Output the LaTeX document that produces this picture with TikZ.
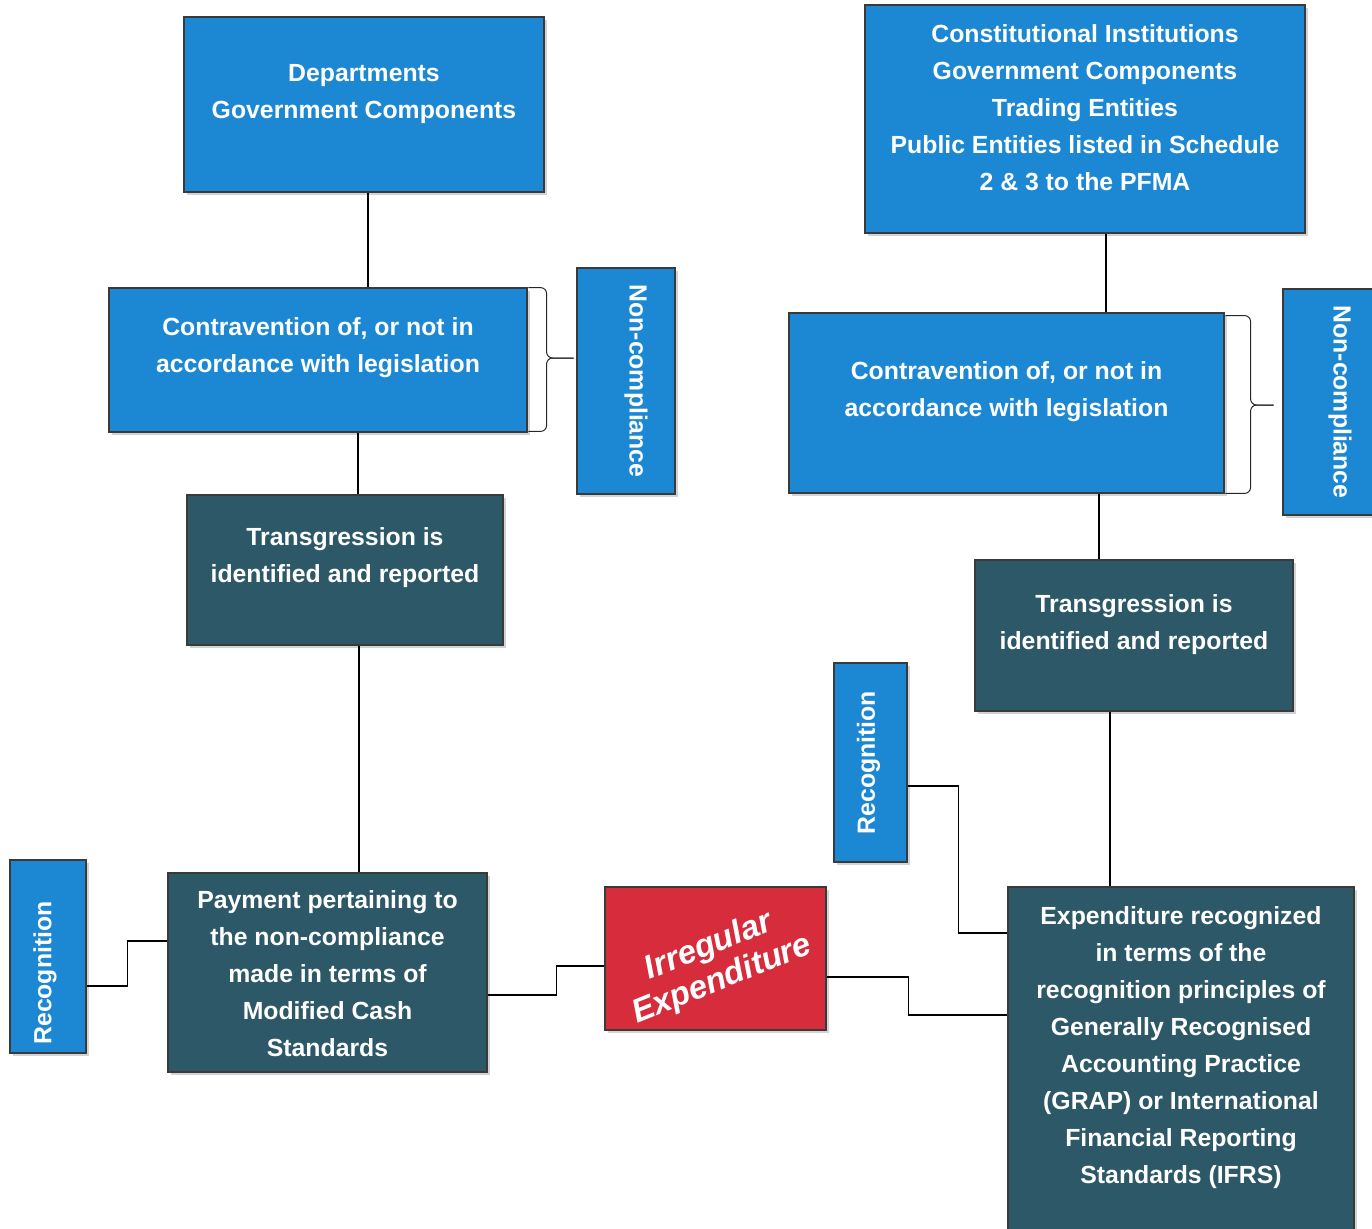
\documentclass[tikz,border=0pt]{standalone}
\usepackage{fontspec}
\setmainfont{Liberation Sans}
\usetikzlibrary{shadows}
\definecolor{boxblue}{RGB}{28,136,212}
\definecolor{boxteal}{RGB}{44,88,104}
\definecolor{boxred}{RGB}{214,44,60}
\definecolor{boxedge}{RGB}{58,58,58}
\tikzset{
  base/.style={draw=boxedge, line width=1.4pt, inner sep=0pt,
    drop shadow={shadow xshift=1.5pt, shadow yshift=-1.5pt, opacity=0.35}},
  bluebox/.style={base, fill=boxblue},
  tealbox/.style={base, fill=boxteal},
  redbox/.style={base, fill=boxred},
  boxtext/.style={text=white, font=\bfseries\fontsize{12.4}{18.5}\selectfont, align=center},
  sidetext/.style={text=white, font=\bfseries\fontsize{12.4}{14}\selectfont},
  bigtext/.style={text=white, font=\bfseries\itshape\fontsize{16.5}{18}\selectfont, align=center},
  link/.style={draw=black, line width=0.9pt},
  brc/.style={draw=black!85, line width=0.5pt, rounded corners=3pt},
}
\begin{document}
\begin{tikzpicture}[x=0.5pt,y=-0.5pt]
\useasboundingbox (0,0) rectangle (1372,1228);

% left column
\node[bluebox, minimum width=180pt, minimum height=87.5pt,
  label={[boxtext,yshift=5.25pt]center:{Departments\\Government Components}}]
  (dept) at (364,104.5) {};
\node[bluebox, minimum width=209pt, minimum height=72pt,
  label={[boxtext,yshift=6.25pt]center:{Contravention of, or not in\\accordance with legislation}}]
  (contL) at (318,360) {};
\node[bluebox, minimum width=49pt, minimum height=113pt,
  label={[sidetext,xshift=5pt,rotate=-90]center:{Non-compliance}}]
  (ncL) at (626,381) {};
\node[tealbox, minimum width=158pt, minimum height=75pt,
  label={[boxtext,yshift=6.25pt]center:{Transgression is\\identified and reported}}]
  (trL) at (345,570) {};
\node[bluebox, minimum width=38pt, minimum height=96.5pt,
  label={[sidetext,xshift=-1.5pt,yshift=-8.25pt,rotate=90]center:{Recognition}}]
  (recL) at (48,956.5) {};
\node[tealbox, minimum width=159.5pt, minimum height=99.5pt,
  label={[boxtext,yshift=-0.5pt]center:{Payment pertaining to\\the non-compliance\\made in terms of\\Modified Cash\\Standards}}]
  (pay) at (327.5,972.5) {};

% centre
\node[redbox, minimum width=110.5pt, minimum height=71.5pt,
  label={[bigtext,yshift=-2.5pt,rotate=22]center:{Irregular\\Expenditure}}]
  (irr) at (715.5,958.5) {};

% right column
\node[bluebox, minimum width=220pt, minimum height=114pt,
  label={[boxtext,yshift=5.75pt]center:{Constitutional Institutions\\Government Components\\Trading Entities\\Public Entities listed in Schedule\\2 \& 3 to the PFMA}}]
  (topR) at (1085,119) {};
\node[bluebox, minimum width=217.5pt, minimum height=90pt,
  label={[boxtext,yshift=5.75pt]center:{Contravention of, or not in\\accordance with legislation}}]
  (contR) at (1006.5,403) {};
\node[bluebox, minimum width=57pt, minimum height=113pt,
  label={[sidetext,rotate=-90]center:{Non-compliance}}]
  (ncR) at (1340,402) {};
\node[tealbox, minimum width=159pt, minimum height=75.5pt,
  label={[boxtext,yshift=5.5pt]center:{Transgression is\\identified and reported}}]
  (trR) at (1134,635.5) {};
\node[bluebox, minimum width=36.5pt, minimum height=99.5pt,
  label={[sidetext,xshift=-1pt,rotate=90]center:{Recognition}}]
  (recR) at (870.5,762.5) {};
\node[tealbox, minimum width=173pt, minimum height=172.5pt,
  label={[boxtext,yshift=5.75pt]center:{Expenditure recognized\\in terms of the\\recognition principles of\\Generally Recognised\\Accounting Practice\\(GRAP) or International\\Financial Reporting\\Standards (IFRS)}}]
  (exp) at (1181,1059.5) {};

% vertical links
\coordinate (a1) at ([xshift=2pt]dept.south);
\coordinate (a2) at ([xshift=20pt]contL.south);
\coordinate (a3) at ([xshift=7pt]trL.south);
\coordinate (b1) at ([xshift=10.5pt]topR.south);
\coordinate (b2) at ([xshift=46.25pt]contR.south);
\coordinate (b3) at ([xshift=-12pt]trR.south);
\draw[link] (a1) -- (a1 |- contL.north);
\draw[link] (a2) -- (a2 |- trL.north);
\draw[link] (a3) -- (a3 |- pay.north);
\draw[link] (b1) -- (b1 |- contR.north);
\draw[link] (b2) -- (b2 |- trR.north);
\draw[link] (b3) -- (b3 |- exp.north);

% elbow links
\draw[link] ([yshift=-14.75pt]recL.east) -- ++(20pt,0) |- ([yshift=15.75pt]pay.west);
\draw[link] ([yshift=-11.25pt]pay.east) -- ++(34pt,0) |- ([yshift=-3.75pt]irr.west);
\draw[link] ([yshift=-9.25pt]irr.east) -- ++(40.5pt,0) |- ([yshift=22.25pt]exp.west);
\draw[link] ([yshift=-11.75pt]recR.east) -- ++(25pt,0) |- ([yshift=63.25pt]exp.west);

% braces
\coordinate (tipL) at ([xshift=-1pt,yshift=11.5pt]ncL.west);
\draw[brc] ([yshift=-0.5pt]contL.north east) -| ([xshift=-13.5pt]tipL) -- (tipL);
\draw[brc] ([yshift=1pt]contL.south east) -| ([xshift=-13.5pt]tipL) -- (tipL);
\coordinate (tipR) at ([xshift=-4pt,yshift=-1.5pt]ncR.west);
\draw[brc] ([yshift=-2pt]contR.north east) -| ([xshift=-11.5pt]tipR) -- (tipR);
\draw[brc] ([yshift=0.5pt]contR.south east) -| ([xshift=-11.5pt]tipR) -- (tipR);
\end{tikzpicture}
\end{document}
